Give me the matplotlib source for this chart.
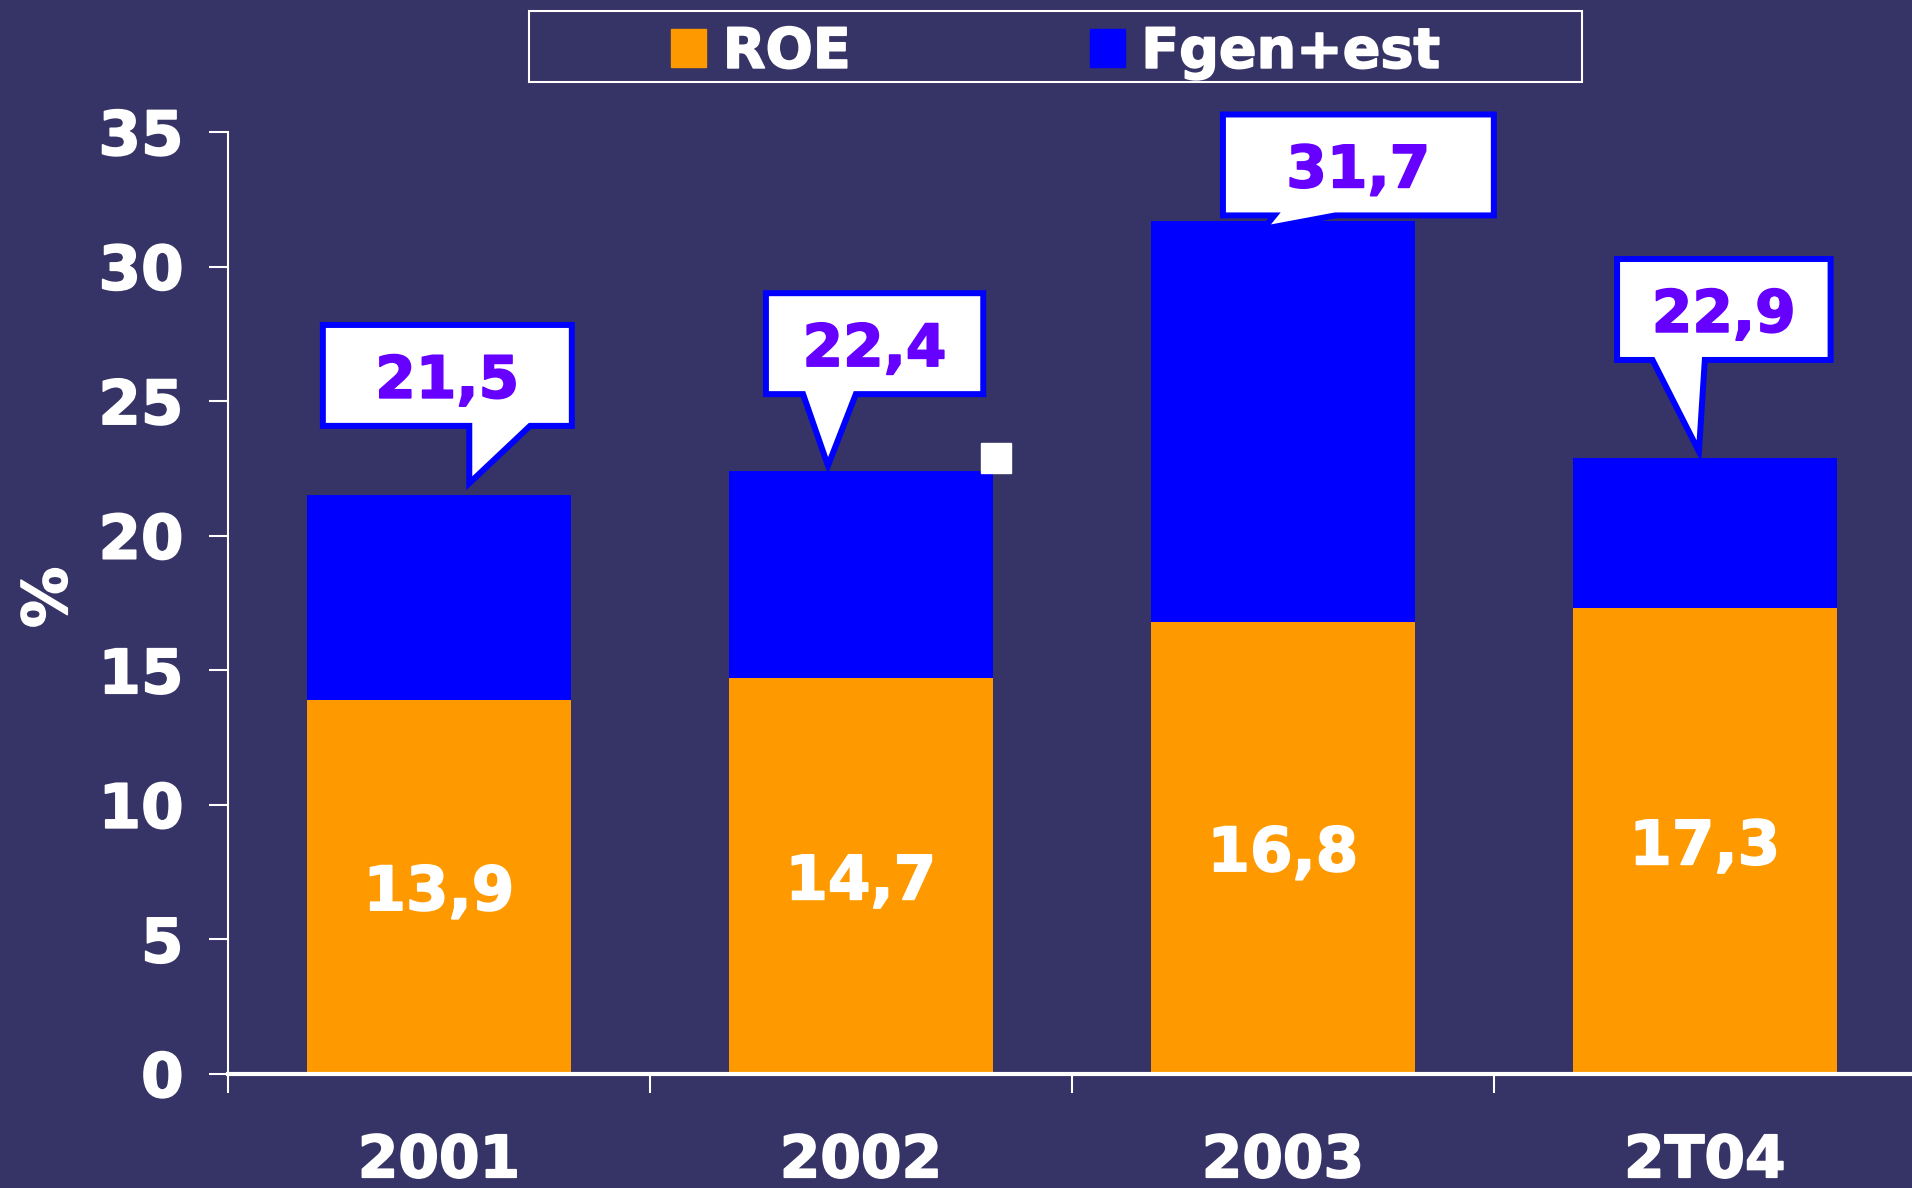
import matplotlib
matplotlib.use("Agg")
import matplotlib.pyplot as plt
import matplotlib.patheffects as pe
from matplotlib.patches import Patch, Polygon, Rectangle

# ROE breakdown by period (%)
periods = ["2001", "2002", "2003", "2T04"]
roe = [13.9, 14.7, 16.8, 17.3]
totals = [21.5, 22.4, 31.7, 22.9]
fgen_est = [t - r for t, r in zip(totals, roe)]

# stray marker sitting next to the 2002 bar
extra_x = [1.32]
extra_y = [22.9]

BG = "#363366"
ORANGE = "#FF9900"
BLUE = "#0000FF"
PURPLE = "#6600FF"

plt.rcParams["font.family"] = ["DejaVu Sans"]
plt.rcParams["font.weight"] = "bold"


def fmt(v):
    return f"{v:.1f}".replace(".", ",")


def heavy(color):
    # DejaVu bold is a little light, thicken the strokes a bit
    return [pe.withStroke(linewidth=1.2, foreground=color)]


# callout geometry relative to bar centre / top:
# (box left, box right, box bottom, tail base left, tail base right, tip dx, tip dy)
callouts = [
    (-0.275, 0.315, 24.08, 0.072, 0.216, 0.072, 0.45),
    (-0.225, 0.29, 25.26, -0.137, -0.012, -0.078, 0.2),
    (-0.142, 0.50, 31.90, -0.02, 0.124, -0.046, -0.3),
    (-0.208, 0.298, 26.53, -0.124, 0.0, -0.014, 0.23),
]
box_h = 3.75

fig = plt.figure(figsize=(19.12, 11.88), dpi=100, facecolor=BG)
ax = fig.add_axes([0.1192, 0.096, 0.8828, 0.7929])
ax.set_facecolor(BG)

x = list(range(len(periods)))
width = 0.625
ax.bar(x, roe, width, color=ORANGE, label="ROE", zorder=2)
ax.bar(x, fgen_est, width, bottom=roe, color=BLUE, label="Fgen+est", zorder=2)

for i, v in enumerate(roe):
    ax.text(i, v / 2 - 0.25, fmt(v), ha="center", va="center", color="white",
            fontsize=44, fontweight="bold", zorder=3, path_effects=heavy("white"))

for i, (t, c) in enumerate(zip(totals, callouts)):
    bl, br, by, tl, tr, tip, tip_dy = c
    pts = [
        (i + bl, by + box_h), (i + br, by + box_h), (i + br, by),
        (i + tr, by), (i + tip, t + tip_dy), (i + tl, by), (i + bl, by),
    ]
    poly = Polygon(pts, closed=True, facecolor="white", edgecolor=BLUE,
                   lw=4.3, joinstyle="miter", clip_on=False, zorder=4)
    ax.add_patch(poly)
    ax.text(i + (bl + br) / 2, by + box_h / 2 - 0.22, fmt(t), ha="center",
            va="center", color=PURPLE, fontsize=42, fontweight="bold", zorder=5,
            clip_on=False, path_effects=heavy(PURPLE))

ax.plot(extra_x, extra_y, marker="s", ms=21, color="white", ls="none",
        zorder=3, clip_on=False)

ax.set_xlim(-0.5, 3.5)
ax.set_ylim(0, 35)
ax.set_yticks(range(0, 36, 5))
ax.set_xticks(x)
ax.set_xticklabels(periods)
ax.set_xticks([-0.5, 0.5, 1.5, 2.5], minor=True)

for s in ["top", "right"]:
    ax.spines[s].set_visible(False)
ax.spines["left"].set_color("white")
ax.spines["left"].set_linewidth(1.5)
ax.spines["bottom"].set_color("white")
ax.spines["bottom"].set_linewidth(3)

ax.tick_params(axis="y", colors="white", length=14, width=1.5, pad=18,
               labelsize=44)
ax.tick_params(axis="x", which="major", length=0, pad=42, colors="white",
               labelsize=42)
ax.tick_params(axis="x", which="minor", length=14, width=1.5, colors="white")
for lbl in ax.get_xticklabels() + ax.get_yticklabels():
    lbl.set_fontweight("bold")
    lbl.set_path_effects(heavy("white"))

ax.set_ylabel("%", color="white", fontsize=44, fontweight="bold",
              path_effects=heavy("white"))
ax.yaxis.set_label_coords(-0.088, 0.506)

# legend with its own frame across the top
fig.add_artist(Rectangle((0.2767, 0.931), 0.5507, 0.0598, transform=fig.transFigure,
                         facecolor="none", edgecolor="white", lw=1.5))
handles = [Patch(color=ORANGE), Patch(color=BLUE)]
leg = fig.legend(handles, ["ROE", "Fgen+est"], loc="center",
                 bbox_to_anchor=(0.552, 0.9555), ncol=2, frameon=False,
                 prop={"size": 40, "weight": "bold"}, labelcolor="white",
                 handlelength=0.63, handleheight=0.67, handletextpad=0.3,
                 columnspacing=4.3)
for txt in leg.get_texts():
    txt.set_path_effects(heavy("white"))

fig.savefig("out.png", dpi=100, facecolor=BG)
